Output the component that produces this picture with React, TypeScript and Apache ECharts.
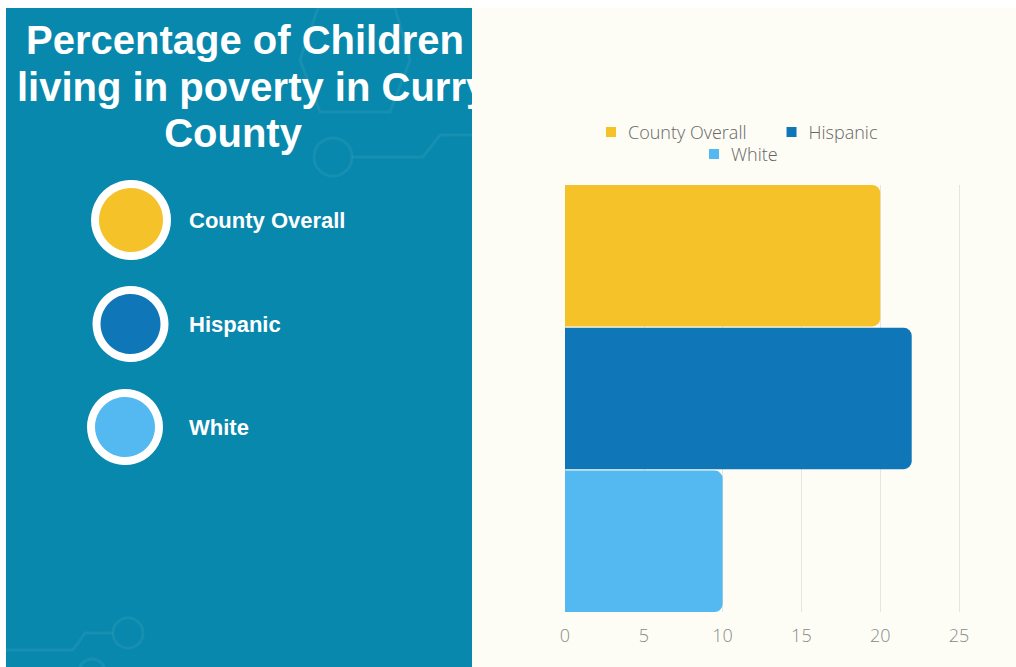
import React, { useEffect, useRef } from "react";
import * as echarts from "echarts";

const categories = [""];
const seriesNames = ["County Overall", "Hispanic", "White"];
const countyOverall = [20];
const hispanic = [22];
const white = [10];
const seriesColors = ["#F5C22A", "#0F77B8", "#53B9F0"];
const xTicks = { min: 0, max: 25, interval: 5 };
const titleLines = ["Percentage of Children", "living in poverty in Curry", "County"];

export default function App() {
  const ref = useRef<HTMLDivElement>(null);
  useEffect(() => {
    document.body.style.margin = "0";
    document.body.style.overflow = "hidden";
    const chart = echarts.init(ref.current!, null, { renderer: "svg" });
    const values = [countyOverall, hispanic, white];
    const titleFont = { fontFamily: "Liberation Sans, Arial, sans-serif", fontWeight: "bold" as const, fontSize: 40, fill: "#ffffff" };
    const labelFont = { fill: "#ffffff", fontFamily: "Liberation Sans, Arial, sans-serif", fontWeight: "bold" as const, fontSize: 22, align: "left" as const, verticalAlign: "middle" as const };
    const deco = "rgba(255,255,255,0.06)";
    const legendText = { color: "#666666", fontFamily: "Open Sans", fontWeight: 300 as const, fontSize: 18, padding: [0, 0, 0, 7] };
    chart.setOption({
      animation: false,
      backgroundColor: "#ffffff",
      graphic: [
        { type: "rect", z: -5, shape: { x: 6, y: 8, width: 466, height: 659 }, style: { fill: "#0888AD" } },
        // faint circuit decorations
        { type: "polyline", z: -4, shape: { points: [[352, 157], [423, 157], [440, 135], [472, 135]] }, style: { stroke: deco, lineWidth: 3, fill: "none" } },
        { type: "circle", z: -4, shape: { cx: 333, cy: 157, r: 19 }, style: { stroke: deco, lineWidth: 3, fill: "none" } },
        { type: "polygon", z: -4, shape: { points: [[318, 8], [395, 8], [410, 60], [390, 112], [320, 112], [300, 60]] }, style: { stroke: deco, lineWidth: 3, fill: "none" } },
        { type: "polyline", z: -4, shape: { points: [[6, 650], [73, 650], [85, 633], [113, 633]] }, style: { stroke: deco, lineWidth: 3, fill: "none" } },
        { type: "circle", z: -4, shape: { cx: 128, cy: 633, r: 15 }, style: { stroke: deco, lineWidth: 3, fill: "none" } },
        { type: "circle", z: -4, shape: { cx: 92, cy: 672, r: 13 }, style: { stroke: deco, lineWidth: 3, fill: "none" } },
        // title
        { type: "text", z: -3, x: 26, y: 40, style: { ...titleFont, text: titleLines[0], align: "left", verticalAlign: "middle" } },
        { type: "text", z: -3, x: 17, y: 87, style: { ...titleFont, text: titleLines[1], align: "left", verticalAlign: "middle" } },
        { type: "text", z: -3, x: 233, y: 133, style: { ...titleFont, text: titleLines[2], align: "center", verticalAlign: "middle" } },
        // left legend circles
        { type: "circle", z: -3, shape: { cx: 131, cy: 220, r: 36 }, style: { fill: seriesColors[0], stroke: "#ffffff", lineWidth: 8 } },
        { type: "circle", z: -3, shape: { cx: 130.5, cy: 324, r: 34 }, style: { fill: seriesColors[1], stroke: "#ffffff", lineWidth: 8 } },
        { type: "circle", z: -3, shape: { cx: 125, cy: 427, r: 34 }, style: { fill: seriesColors[2], stroke: "#ffffff", lineWidth: 8 } },
        { type: "text", z: -3, x: 189, y: 220, style: { ...labelFont, text: seriesNames[0] } },
        { type: "text", z: -3, x: 189, y: 324, style: { ...labelFont, text: seriesNames[1] } },
        { type: "text", z: -3, x: 189, y: 427, style: { ...labelFont, text: seriesNames[2] } },
        // right panel
        { type: "rect", z: -2, shape: { x: 472, y: 8, width: 544, height: 659 }, style: { fill: "#FDFDF5" } },
      ],
      legend: [
        {
          data: [seriesNames[0], seriesNames[1]],
          left: 601, top: 118, itemWidth: 10, itemHeight: 10, itemGap: 40, icon: "rect",
          textStyle: legendText,
        },
        {
          data: [seriesNames[2]],
          left: 704, top: 140, itemWidth: 10, itemHeight: 10, icon: "rect",
          textStyle: legendText,
        },
      ],
      grid: { left: 565, right: 57, top: 185, bottom: 55, containLabel: false },
      xAxis: {
        type: "value",
        min: xTicks.min, max: xTicks.max, interval: xTicks.interval,
        axisLine: { show: false }, axisTick: { show: false },
        splitLine: { lineStyle: { color: "#e4e4e0", width: 1 } },
        axisLabel: { color: "#8a8a8a", fontFamily: "Open Sans", fontWeight: 300, fontSize: 18, margin: 14 },
      },
      yAxis: {
        type: "category", data: categories, inverse: true,
        axisLine: { show: false }, axisTick: { show: false }, axisLabel: { show: false },
      },
      series: seriesNames.map((name, i) => ({
        type: "bar", name, data: values[i],
        barGap: "1%", barCategoryGap: 0,
        itemStyle: { color: seriesColors[i], borderRadius: [0, 8, 8, 0] },
      })),
    });
    return () => chart.dispose();
  }, []);
  return <div ref={ref} style={{ width: 1016, height: 667 }} />;
}
